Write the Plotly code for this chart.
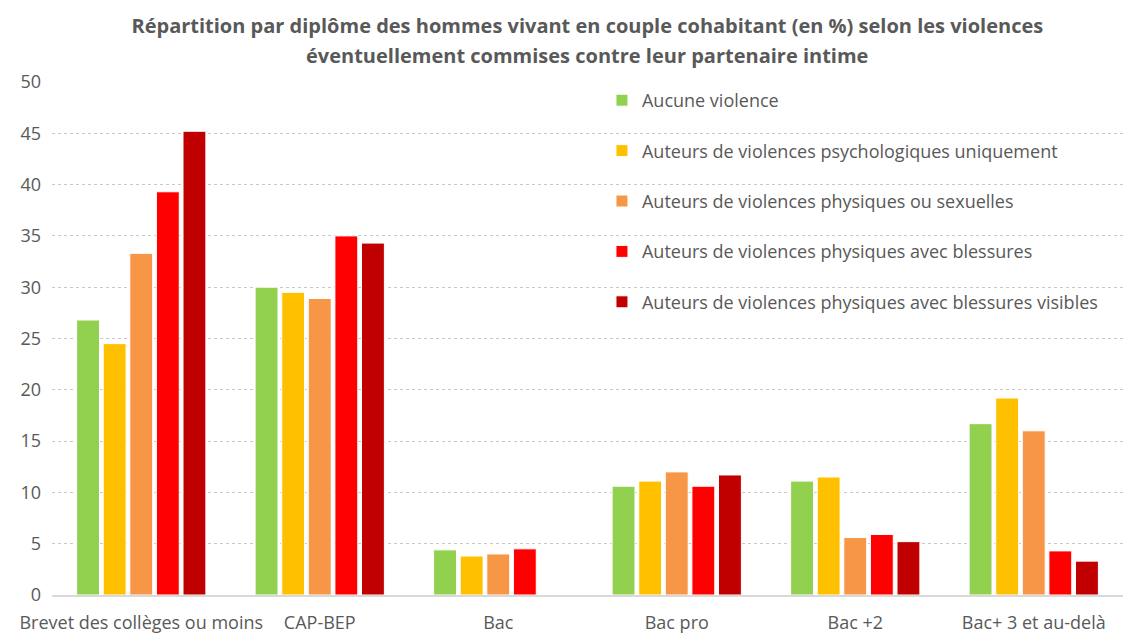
import plotly.graph_objects as go

categories = ["Brevet des collèges ou moins", "CAP-BEP", "Bac", "Bac pro", "Bac +2", "Bac+ 3 et au-delà"]
series_names = [
    "Aucune violence",
    "Auteurs de violences psychologiques uniquement",
    "Auteurs de violences physiques ou sexuelles",
    "Auteurs de violences physiques avec blessures",
    "Auteurs de violences physiques avec blessures visibles",
]
aucune = [26.8, 30.0, 4.4, 10.6, 11.1, 16.7]
psycho = [24.5, 29.5, 3.8, 11.1, 11.5, 19.2]
phys_sex = [33.3, 28.9, 4.0, 12.0, 5.6, 16.0]
blessures = [39.3, 35.0, 4.5, 10.6, 5.9, 4.3]
blessures_vis = [45.2, 34.3, None, 11.7, 5.2, 3.3]
colors = ["#92D050", "#FFC000", "#F79646", "#FF0000", "#C00000"]

title_line1 = "Répartition par diplôme des hommes vivant en couple cohabitant (en %) selon les violences"
title_line2 = "éventuellement commises contre leur partenaire intime"

values = [aucune, psycho, phys_sex, blessures, blessures_vis]
y_ticks = list(range(0, 51, 5))

FONT = "Open Sans"
GRAY = "#595959"

fig = go.Figure()
for i, (name, vals, col) in enumerate(zip(series_names, values, colors)):
    fig.add_trace(go.Bar(
        x=categories, y=vals, name=name,
        marker=dict(color=col, line=dict(color="white", width=1)),
        legendgroup=f"g{i}",
    ))

fig.update_layout(
    width=1123, height=633,
    paper_bgcolor="white", plot_bgcolor="white",
    margin=dict(l=52, r=0, t=82, b=38),
    barmode="group", bargap=0.255, bargroupgap=0.14,
    font=dict(family=FONT, color=GRAY, size=18),
    title=dict(
        text="<b>" + title_line1 + "</b>",
        x=0.523, xanchor="center", yref="container", y=1 - 26 / 633, yanchor="middle",
        font=dict(family=FONT, size=20, color=GRAY),
    ),
    legend=dict(
        x=0.5135, xanchor="left", y=1.0, yanchor="top",
        bgcolor="rgba(0,0,0,0)", font=dict(family=FONT, size=18, color=GRAY),
        tracegroupgap=24, itemwidth=30,
    ),
    xaxis=dict(
        showline=True, linecolor="#D9D9D9", linewidth=2,
        ticks="", tickfont=dict(size=18, color=GRAY),
        ticklabelstandoff=10,
    ),
    yaxis=dict(
        range=[0, 50], tickvals=y_ticks, showgrid=True,
        gridcolor="#C8C8C8", griddash="dot", gridwidth=1,
        zeroline=False, ticks="", tickfont=dict(size=18, color=GRAY),
        ticklabelstandoff=10,
    ),
    annotations=[dict(
        text="<b>" + title_line2 + "</b>", xref="paper", yref="paper",
        x=0.523 * 1123 / 1071 - 52 / 1071, xanchor="center",
        y=(595 - 56) / 513, yanchor="middle", showarrow=False,
        font=dict(family=FONT, size=20, color=GRAY),
    )],
)

fig.write_html("out.html", config={"displayModeBar": False},
               post_script="document.body.style.margin='0';")
